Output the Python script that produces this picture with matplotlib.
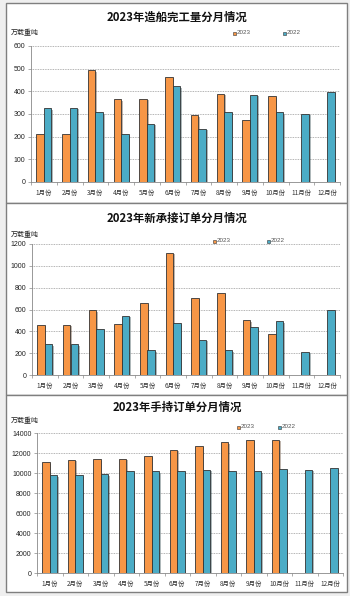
import matplotlib
matplotlib.use("Agg")
import matplotlib.pyplot as plt
import matplotlib.patches as mpatches
import matplotlib.patheffects as pe
import numpy as np

plt.rcParams['font.family'] = ['Noto Sans CJK SC', 'DejaVu Sans']

months = ["1月份", "2月份", "3月份", "4月份", "5月份", "6月份",
          "7月份", "8月份", "9月份", "10月份", "11月份", "12月份"]

# 造船完工量
done_2023 = [210, 210, 493, 365, 368, 465, 295, 390, 275, 380]
done_2022 = [325, 328, 308, 210, 257, 422, 235, 310, 386, 308, 302, 398]

# 新承接订单
new_2023 = [460, 462, 593, 465, 658, 1120, 708, 755, 503, 372]
new_2022 = [280, 280, 425, 545, 228, 475, 325, 230, 437, 495, 215, 595]

# 手持订单
hold_2023 = [11100, 11350, 11400, 11450, 11750, 12350, 12750, 13100, 13350, 13350]
hold_2022 = [9800, 9800, 9900, 10200, 10200, 10250, 10350, 10200, 10200, 10450, 10350, 10500]

ORANGE = "#F79646"
TEAL = "#4BACC6"

W, H = 350, 596
fig = plt.figure(figsize=(W / 100, H / 100), dpi=100, facecolor="#EFEFEF")


def px_axes(l, t, r, b, **kw):
    return fig.add_axes([l / W, 1 - b / H, (r - l) / W, (b - t) / H], **kw)


def panel(top, bottom):
    fig.patches.append(mpatches.Rectangle(
        (6 / W, 1 - bottom / H), 341 / W, (bottom - top) / H,
        transform=fig.transFigure, facecolor="white", edgecolor="#7F7F7F",
        linewidth=1.0, zorder=-5))


def chart(box, y23, y22, ymax, step, title, title_y, unit_y, leg):
    l, t, r, b = box
    ax = px_axes(l, t, r, b)
    ax.set_facecolor("none")
    x = np.arange(len(months))
    w = 0.29
    shadow = [pe.SimplePatchShadow(offset=(1.2, -1.2), alpha=0.35), pe.Normal()]
    b1 = ax.bar(x[:len(y23)] - w / 2, y23, w, color=ORANGE,
                edgecolor="#333333", linewidth=0.6, zorder=3)
    b2 = ax.bar(x + w / 2, y22, w, color=TEAL,
                edgecolor="#333333", linewidth=0.6, zorder=3)
    for p in list(b1) + list(b2):
        p.set_path_effects(shadow)
    ax.set_xlim(-0.5, 11.5)
    ax.set_ylim(0, ymax)
    ax.set_yticks(np.arange(0, ymax + 1, step))
    ax.yaxis.grid(True, color="#9A9A9A", linestyle=(0, (1, 1)), linewidth=0.6, zorder=0)
    ax.set_axisbelow(True)
    ax.set_xticks(x)
    ax.set_xticklabels(months, fontsize=4.6, color="#333333")
    ax.set_xticks(np.arange(-0.5, 12, 1), minor=True)
    ax.tick_params(axis="x", which="major", length=0, pad=5)
    ax.tick_params(axis="x", which="minor", length=2.5, width=0.5, color="#888888")
    ax.tick_params(axis="y", length=2, width=0.5, color="#888888",
                   labelsize=5, pad=2, labelcolor="#222222")
    for lab in ax.get_yticklabels():
        lab.set_family(["Liberation Sans", "DejaVu Sans"])
    for s in ["top", "right"]:
        ax.spines[s].set_visible(False)
    for s in ["left", "bottom"]:
        ax.spines[s].set_color("#888888")
        ax.spines[s].set_linewidth(0.6)

    fig.text(177 / W, 1 - title_y / H, title, fontsize=8.2, fontweight="bold",
             ha="center", va="center", color="#111111")
    fig.text(11 / W, 1 - unit_y / H, "万载重吨", fontsize=5, ha="left",
             va="center", color="#222222")
    lx23, lx22, ly = leg
    for lx, c, name in [(lx23, ORANGE, "2023"), (lx22, TEAL, "2022")]:
        fig.patches.append(mpatches.Rectangle(
            (lx / W, 1 - (ly + 1.5) / H), 3 / W, 3 / H, transform=fig.transFigure,
            facecolor=c, edgecolor="#333333", linewidth=0.4, zorder=5))
        fig.text((lx + 3.5) / W, 1 - ly / H, name, fontsize=4.5, ha="left",
                 va="center", color="#555555",
                 family=["Liberation Sans", "DejaVu Sans"])
    return ax


panel(3, 203)
panel(203, 395)
panel(395, 592)

chart((31, 46, 340, 182), done_2023, done_2022, 600, 100,
      "2023年造船完工量分月情况", 17, 33, (233, 283, 33))
chart((32, 244, 340, 375), new_2023, new_2022, 1200, 200,
      "2023年新承接订单分月情况", 218, 235, (213, 267, 241))
chart((37, 433, 343, 573), hold_2023, hold_2022, 14000, 2000,
      "2023年手持订单分月情况", 407, 421, (237, 278, 427))

fig.savefig("out.png", dpi=100, facecolor=fig.get_facecolor())
